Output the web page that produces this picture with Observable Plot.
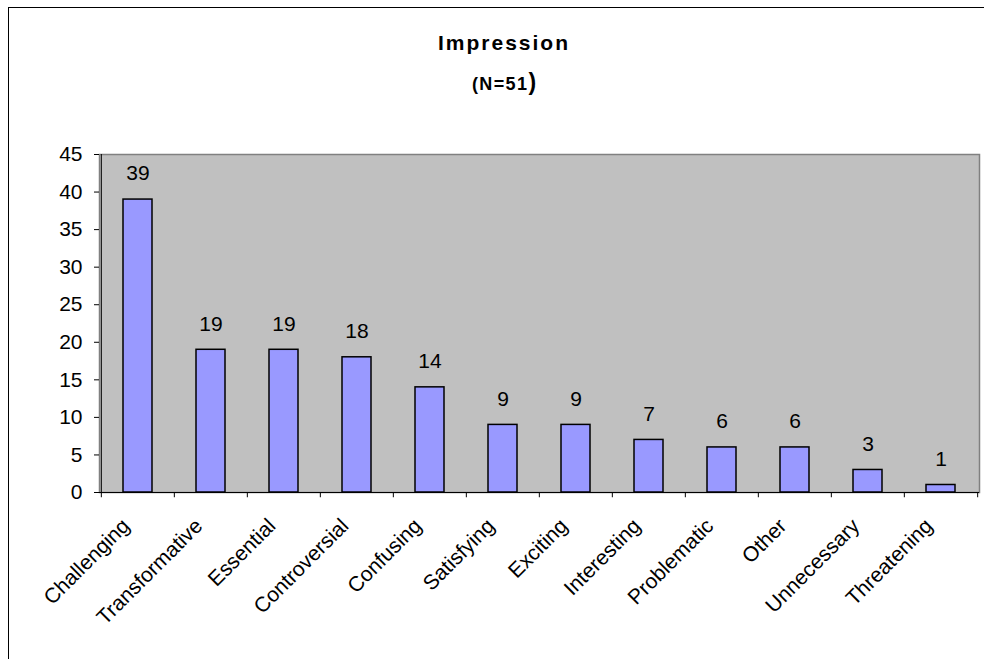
<!DOCTYPE html>
<html>
<head>
<meta charset="utf-8">
<script src="https://cdn.jsdelivr.net/npm/d3@7"></script>
<script src="https://cdn.jsdelivr.net/npm/@observablehq/plot@0.6"></script>
<style>
  html, body { margin: 0; padding: 0; background: #fff; overflow: hidden; width: 984px; height: 659px; }
  body { font-family: "Liberation Sans", Arial, sans-serif; color: #000; position: relative; }
  #border { position: absolute; left: 8px; top: 7px; width: 1000px; height: 700px; border: 1px solid #000; box-sizing: border-box; }
  #title { position: absolute; left: 0; width: 1008px; top: 32px; text-align: center; font-weight: bold; font-size: 21px; line-height: 21px; letter-spacing: 2px; }
  #subtitle { position: absolute; left: 0; width: 1008px; top: 72px; text-align: center; font-weight: bold; font-size: 18px; line-height: 20px; letter-spacing: 1.4px; }
  #subtitle .big { font-size: 23px; letter-spacing: 0; }
  #chart { position: absolute; left: 0; top: 110px; }
</style>
</head>
<body>
<div id="border"></div>
<div id="title">Impression</div>
<div id="subtitle">(N=51<span class="big">)</span></div>
<div id="chart"></div>
<script>
const categories = ["Challenging", "Transformative", "Essential", "Controversial", "Confusing", "Satisfying", "Exciting", "Interesting", "Problematic", "Other", "Unnecessary", "Threatening"];
const values = [39, 19, 19, 18, 14, 9, 9, 7, 6, 6, 3, 1];
const yTicks = [0, 5, 10, 15, 20, 25, 30, 35, 40, 45];

const data = categories.map((c, i) => ({cat: c, value: values[i]}));

const W = 984, H = 549, mL = 99, mR = 5, mT = 44, mB = 167;
const step = (W - mL - mR) / categories.length;
const font = "Liberation Sans, Arial, sans-serif";
const fs = 21;

const chart = Plot.plot({
  width: W,
  height: H,
  marginLeft: mL,
  marginRight: mR,
  marginTop: mT,
  marginBottom: mB,
  style: {fontFamily: font, fontSize: fs + "px", color: "#000", background: "transparent", overflow: "visible"},
  x: {domain: categories, paddingInner: 0.6, paddingOuter: 0.3, axis: null},
  y: {domain: [0, 45], axis: null},
  marks: [
    Plot.frame({fill: "#C0C0C0", stroke: "#808080", strokeWidth: 1.5}),
    Plot.barY(data, {x: "cat", y: "value", fill: "#9999FF", stroke: "#000", strokeWidth: 1.5}),
    Plot.text(data, {x: "cat", y: "value", text: d => String(d.value), dy: -26, fontSize: fs, fill: "#000"}),
    Plot.axisY({ticks: yTicks, tickSize: 5, tickPadding: 12, fontSize: fs, label: null, stroke: "#000", strokeOpacity: 1}),
    Plot.ruleY([0], {stroke: "#000", strokeWidth: 1}),
    Plot.ruleX([categories[0]], {x: d => d, dx: -step / 2, y1: 0, y2: 45, stroke: "#000"}),
    Plot.ruleX(categories, {x: d => d, dx: -step / 2, y1: 0, y2: -0.7, stroke: "#000"}),
    Plot.ruleX([categories[categories.length - 1]], {x: d => d, dx: step / 2, y1: 0, y2: -0.7, stroke: "#000"}),
    Plot.text(categories, {x: d => d, y: 0, text: d => d, rotate: -45, textAnchor: "end", dx: -12, dy: 30, fontSize: fs, fill: "#000"})
  ]
});
document.getElementById("chart").appendChild(chart);
</script>
</body>
</html>
